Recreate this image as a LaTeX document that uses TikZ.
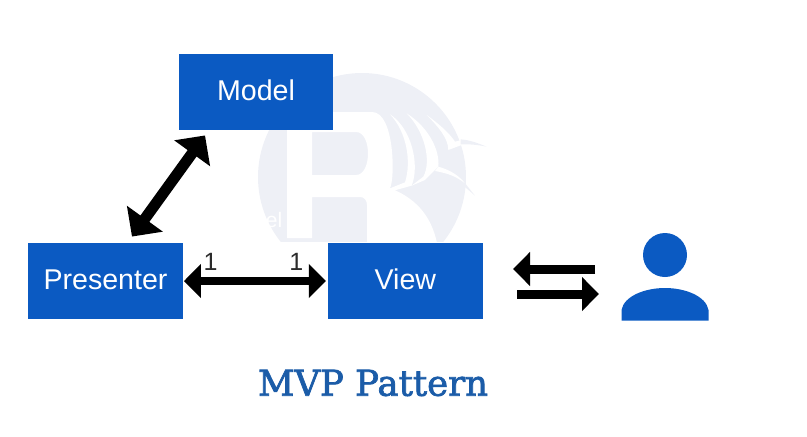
\documentclass[tikz,border=0pt]{standalone}
\usepackage{fontspec}
\setmainfont{Liberation Sans}
\newfontfamily\titlefont[AutoFakeBold=2]{DejaVu Serif}
\usetikzlibrary{positioning,arrows.meta}
\definecolor{boxblue}{HTML}{0B5AC2}
\definecolor{titleblue}{HTML}{1B5CA8}
\definecolor{markgrey}{HTML}{EEF0F6}
\definecolor{countgrey}{HTML}{2B2B2B}

\begin{document}
\begin{tikzpicture}[
  x=1pt, y=-1pt,
  node distance=145pt,
  mvpbox/.style={fill=boxblue, minimum width=154.5pt, minimum height=76.5pt, inner sep=0pt,
    text=white, text height=21pt, text depth=5pt, font=\fontsize{28.6}{30}\selectfont},
  countlabel/.style={text=countgrey, inner sep=0pt, font=\fontsize{25}{27}\selectfont},
  linkarrow/.style={line width=8.5pt, {Triangle[length=17pt,width=33pt]}-{Triangle[length=17pt,width=33pt]}},
  diagarrow/.style={line width=11pt, {Triangle[length=22pt,width=43pt]}-{Triangle[length=22pt,width=43pt]}},
  userarrow/.style={line width=9pt, -{Triangle[length=17pt,width=33pt]}}
]
  \useasboundingbox (0,0) rectangle (807,437);

  % watermark
  \begin{scope}
    \clip (250,60) rectangle (500,241);
    \fill [markgrey] (362,177) circle (104pt);
    \fill [white, even odd rule] (287,112) -- (372,112) .. controls (395,112) and (395,180) .. (390,188)
      .. controls (420,200) and (432,220) .. (437,243) -- (367,243) -- (367,205)
      .. controls (367,200) and (364,197) .. (360,197) -- (312,197) -- (312,238) -- (287,238) -- cycle
      (312,132) -- (356,132) .. controls (372,132) and (372,175) .. (356,175) -- (312,175) -- cycle;
  \end{scope}
  \begin{scope}[shift={(370,95)}, x=.3333pt, y=-.3333pt]
    \fill [white] (60,58) .. controls (125,100) and (150,210) .. (125,272) -- (60,290) -- (60,280) -- (105,262)
      .. controls (125,200) and (110,110) .. (60,58) -- cycle;
    \fill [white] (110,55) .. controls (180,100) and (210,170) .. (205,215) -- (165,255) -- (125,272) -- (160,245)
      .. controls (185,200) and (165,110) .. (110,55) -- cycle;
    \fill [white] (170,60) .. controls (225,100) and (245,125) .. (255,140) -- (275,135) -- (275,150)
      -- (235,165) .. controls (235,130) and (205,95) .. (170,60) -- cycle;
    \fill [markgrey] (272,133) .. controls (300,135) and (325,145) .. (350,155)
      .. controls (325,150) and (300,147) .. (272,148) -- cycle;
    \fill [white] (205,215) .. controls (240,225) and (265,240) .. (285,265) .. controls (260,245) and (235,235) .. (195,228) -- cycle;
    \fill [markgrey] (283,262) -- (315,302) -- (280,272) -- cycle;
  \end{scope}
  \node (marktext) at (274,220) [text=white, inner sep=0pt, font=\fontsize{21}{24}\selectfont] {el};

  \node (presenter) at (105.5,281) [mvpbox] {Presenter};
  \node (view) [mvpbox, right=of presenter] {View};
  \node (model) at (256,92) [mvpbox] {Model};

  \draw [linkarrow] ([xshift=1pt]presenter.east) -- ([xshift=-2pt]view.west);
  \draw [diagarrow] ([xshift=26.5pt,yshift=6pt]presenter.north) -- ([xshift=-51pt,yshift=-5pt]model.south);

  \node (countp) [countlabel, right=20.5pt of presenter.east, yshift=19pt] {1};
  \node (countv) [countlabel, left=24.5pt of view.west, yshift=19pt] {1};

  % user
  \coordinate (backtail) at (595,269);
  \coordinate (backtip) at (513,269);
  \coordinate (fwdtail) at (517,294);
  \coordinate (fwdtip) at (599,294);
  \draw [userarrow] (backtail) -- (backtip);
  \draw [userarrow] (fwdtail) -- (fwdtip);

  \fill [boxblue] (665,255) circle (22pt);
  \fill [boxblue] (621.5,320.5) -- (621.5,310) .. controls (624,296) and (645,288) .. (665,288)
    .. controls (685,288) and (706,296) .. (708.5,310) -- (708.5,320.5) -- cycle;

  \node (title) at (373,383) [text=titleblue, inner sep=0pt, font=\titlefont\bfseries\fontsize{35.5}{37}\selectfont] {MVP Pattern};

\end{tikzpicture}
\end{document}
